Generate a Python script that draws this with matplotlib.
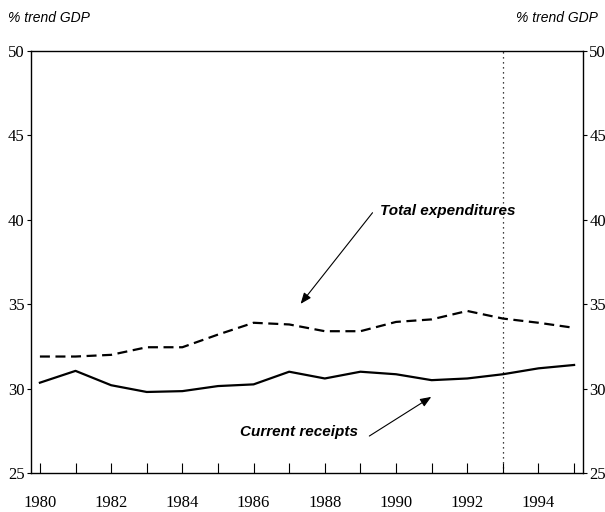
import matplotlib
matplotlib.use("Agg")
import matplotlib.pyplot as plt
import numpy as np

years = list(range(1980, 1996))
current_receipts = [30.35, 31.05, 30.2, 29.8, 29.85, 30.15, 30.25, 31.0,
                    30.6, 31.0, 30.85, 30.5, 30.6, 30.85, 31.2, 31.4]
total_expenditures = [31.9, 31.9, 32.0, 32.45, 32.45, 33.2, 33.9, 33.8,
                      33.4, 33.4, 33.95, 34.1, 34.6, 34.15, 33.9, 33.6]
y_ticks = [25, 30, 35, 40, 45, 50]
x_label_years = [1980, 1982, 1984, 1986, 1988, 1990, 1992, 1994]
forecast_year = 1993

serif = ["Liberation Serif", "DejaVu Serif"]
sans = ["Liberation Sans", "DejaVu Sans"]

fig = plt.figure(figsize=(6.05, 5.12), dpi=100)
ax = fig.add_axes([31/605, 1-473/512, (583-31)/605, (473-51)/512])

ax.plot(years, current_receipts, color="black", lw=1.6, solid_joinstyle="round")
ax.plot(years, total_expenditures, color="black", lw=1.6, ls=(0, (4.5, 2.5)))
ax.axvline(forecast_year, color="black", lw=0.9, ls=(0, (1, 3)))

ax.set_xlim(1979.75, 1995.25)
ax.set_ylim(25, 50)

ax.set_yticks(y_ticks)
ax.tick_params(axis="y", which="both", direction="out", length=3, width=0.8,
               left=True, right=True, labelleft=True, labelright=True, pad=1.5)
ax.set_xticks(years)
ax.set_xticklabels([str(y) if y in x_label_years else "" for y in years])
ax.tick_params(axis="x", direction="in", length=7, width=0.8, pad=16, top=False)

for t in ax.xaxis.get_major_ticks():
    t.label1.set_fontfamily(serif)
    t.label1.set_fontsize(12)
for t in ax.yaxis.get_major_ticks():
    for lab in (t.label1, t.label2):
        lab.set_fontfamily(serif)
        lab.set_fontsize(12)

for s in ax.spines.values():
    s.set_linewidth(1.0)

fig.text(8/605, 1-18/512, "% trend GDP", family=sans, style="italic",
         fontsize=10, ha="left", va="center")
fig.text(598/605, 1-18/512, "% trend GDP", family=sans, style="italic",
         fontsize=10, ha="right", va="center")

arrow_kw = dict(arrowstyle="-|>,head_length=0.55,head_width=0.22", color="black",
                lw=0.8, mutation_scale=12, shrinkA=0, shrinkB=0)
ax.annotate("", xy=(1987.32, 35.02), xytext=(1989.34, 40.42), arrowprops=arrow_kw)
ax.text(1989.56, 40.54, "Total expenditures", family=sans, style="italic",
        weight="bold", fontsize=11, ha="left", va="center")
ax.annotate("", xy=(1990.99, 29.51), xytext=(1989.25, 27.19), arrowprops=arrow_kw)
ax.text(1988.92, 27.43, "Current receipts", family=sans, style="italic",
        weight="bold", fontsize=11, ha="right", va="center")

fig.savefig("out.png", dpi=100)
